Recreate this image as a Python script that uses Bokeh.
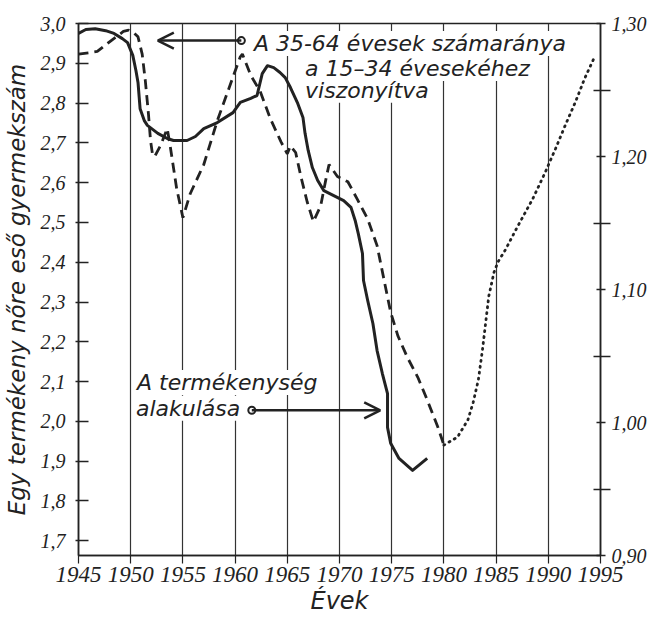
from bokeh.plotting import figure
from bokeh.models import Range1d, LinearAxis, FixedTicker, Label, Arrow, OpenHead
from bokeh.embed import file_html
from bokeh.resources import INLINE

# --- data ---
fert_years = [1945.0, 1945.7, 1946.6, 1947.6, 1948.4, 1949.2, 1949.7, 1950.2, 1950.5, 1950.7,
              1950.9, 1951.3, 1951.6, 1952.6, 1953.5, 1954.1, 1955.4, 1956.2, 1957.0, 1958.3,
              1959.8, 1960.5, 1961.5, 1962.1, 1962.6, 1963.1, 1963.7, 1964.3, 1964.8, 1965.3,
              1966.0, 1966.5, 1966.7, 1967.0, 1967.4, 1967.9, 1968.5, 1969.4, 1970.4, 1971.1,
              1971.5, 1971.8, 1972.2, 1972.3, 1972.7, 1973.2, 1973.6, 1974.1, 1974.6, 1974.6,
              1974.6, 1974.9, 1975.7, 1977.0, 1978.4]
fertility = [2.975, 2.985, 2.987, 2.982, 2.975, 2.962, 2.952, 2.920, 2.882, 2.852,
             2.786, 2.756, 2.744, 2.724, 2.711, 2.706, 2.706, 2.716, 2.736, 2.751,
             2.776, 2.802, 2.812, 2.819, 2.874, 2.894, 2.889, 2.877, 2.864, 2.839,
             2.799, 2.764, 2.724, 2.681, 2.638, 2.606, 2.580, 2.568, 2.555, 2.538,
             2.505, 2.472, 2.422, 2.354, 2.304, 2.246, 2.178, 2.121, 2.070, 2.028,
             1.985, 1.945, 1.907, 1.877, 1.907]

ratio_years = [1945.0, 1946.0, 1946.8, 1948.1, 1949.3, 1949.8, 1950.3, 1950.7, 1951.1, 1951.4,
               1951.7, 1951.9, 1952.1, 1952.3, 1952.9, 1953.5, 1953.8, 1954.4, 1955.0, 1955.7,
               1957.0, 1958.3, 1959.9, 1960.5, 1960.7, 1961.5, 1962.4, 1963.4, 1964.4, 1965.0,
               1965.3, 1965.8, 1966.3, 1966.9, 1967.5, 1968.2, 1968.7, 1969.0, 1969.8, 1970.8,
               1971.7, 1972.7, 1973.6, 1974.4, 1974.9, 1975.6, 1976.5, 1977.5, 1978.4, 1979.4,
               1980.0]
ratio = [1.277, 1.278, 1.279, 1.287, 1.294, 1.295, 1.293, 1.290, 1.277, 1.257,
         1.232, 1.212, 1.201, 1.200, 1.209, 1.221, 1.207, 1.176, 1.154, 1.172,
         1.194, 1.227, 1.262, 1.275, 1.277, 1.261, 1.249, 1.228, 1.211, 1.202,
         1.208, 1.203, 1.185, 1.166, 1.151, 1.163, 1.183, 1.194, 1.185, 1.181,
         1.168, 1.153, 1.133, 1.102, 1.083, 1.065, 1.049, 1.034, 1.017, 0.997,
         0.983]

proj_years = [1980.0, 1981.3, 1982.3, 1982.8, 1983.3, 1983.7, 1984.0, 1984.3, 1984.8, 1985.2,
              1985.9, 1987.1, 1988.5, 1989.7, 1990.7, 1991.6, 1992.6, 1993.5, 1994.5]
ratio_proj = [0.983, 0.989, 1.002, 1.015, 1.032, 1.055, 1.075, 1.095, 1.113, 1.121,
              1.130, 1.148, 1.168, 1.188, 1.206, 1.223, 1.241, 1.259, 1.276]

x_ticks = [1945, 1950, 1955, 1960, 1965, 1970, 1975, 1980, 1985, 1990, 1995]
grid_years = [1950, 1955, 1960, 1965, 1970, 1975, 1980, 1985, 1990]
left_ticks = [1.7, 1.8, 1.9, 2.0, 2.1, 2.2, 2.3, 2.4, 2.5, 2.6, 2.7, 2.8, 2.9, 3.0]
left_labels = ["1,7", "1,8", "1,9", "2,0", "2,1", "2,2", "2,3", "2,4", "2,5", "2,6",
               "2,7", "2,8", "2,9", "3,0"]
right_ticks = [0.9, 1.0, 1.1, 1.2, 1.3]
right_minor = [0.95, 1.05, 1.15, 1.25]
right_labels = ["0,90", "1,00", "1,10", "1,20", "1,30"]

y_title = "Egy termékeny nőre eső gyermekszám"
x_title = "Évek"
note_ratio = ["A 35-64 évesek számaránya", "a 15–34 évesekéhez", "viszonyítva"]
note_fert = ["A termékenység", "alakulása"]

INK = "#222222"
TICK_FONT = "Liberation Sans Narrow"
TEXT_FONT = "DejaVu Sans"

p = figure(width=650, height=623, x_range=Range1d(1945, 1995), y_range=Range1d(1.663, 3.0),
           output_backend="svg", toolbar_location=None,
           min_border_left=78, min_border_right=50, min_border_top=23, min_border_bottom=68)
p.extra_y_ranges = {"ratio": Range1d(0.9, 1.3)}
p.background_fill_color = "white"
p.border_fill_color = "white"
p.outline_line_color = INK
p.outline_line_width = 1.5

# grid
p.ygrid.visible = False
p.xgrid.ticker = FixedTicker(ticks=grid_years)
p.xgrid.grid_line_color = "#333333"
p.xgrid.grid_line_width = 1.2

# bottom axis
xa = p.below[0]
xa.ticker = FixedTicker(ticks=x_ticks)
xa.major_tick_in = 0
xa.major_tick_out = 8
xa.minor_tick_line_color = None
xa.axis_line_color = INK
xa.axis_line_width = 1.5
xa.major_tick_line_color = INK
xa.major_tick_line_width = 1.2
xa.major_label_text_font = TICK_FONT
xa.major_label_text_font_style = "italic"
xa.major_label_text_font_size = "23px"
xa.major_label_text_color = INK
xa.major_label_standoff = 3
xa.axis_label = x_title
xa.axis_label_text_font = TEXT_FONT
xa.axis_label_text_font_style = "italic"
xa.axis_label_text_font_size = "24px"
xa.axis_label_text_color = INK
xa.axis_label_standoff = 2

# left axis
ya = p.left[0]
ya.ticker = FixedTicker(ticks=left_ticks)
ya.major_label_overrides = dict(zip(left_ticks, left_labels))
ya.major_tick_in = 10
ya.major_tick_out = 3
ya.minor_tick_line_color = None
ya.axis_line_color = INK
ya.axis_line_width = 1.5
ya.major_tick_line_color = INK
ya.major_tick_line_width = 1.5
ya.major_label_text_font = TICK_FONT
ya.major_label_text_font_style = "italic"
ya.major_label_text_font_size = "20px"
ya.major_label_text_color = INK
ya.major_label_standoff = 10
ya.axis_label = y_title
ya.axis_label_text_font = TEXT_FONT
ya.axis_label_text_font_style = "italic"
ya.axis_label_text_font_size = "23px"
ya.axis_label_text_color = INK
ya.axis_label_standoff = 8

# right axis
ra = LinearAxis(y_range_name="ratio",
                ticker=FixedTicker(ticks=right_ticks, minor_ticks=right_minor),
                major_label_overrides=dict(zip(right_ticks, right_labels)))
ra.major_tick_in = 4
ra.major_tick_out = 5
ra.minor_tick_in = 7
ra.minor_tick_out = 10
ra.axis_line_color = INK
ra.axis_line_width = 1.5
ra.major_tick_line_color = INK
ra.major_tick_line_width = 1.5
ra.minor_tick_line_color = INK
ra.minor_tick_line_width = 1.5
ra.major_label_text_font = TICK_FONT
ra.major_label_text_font_style = "italic"
ra.major_label_text_font_size = "20px"
ra.major_label_text_color = INK
ra.major_label_standoff = 1
p.add_layout(ra, "right")

# curves
p.line(fert_years, fertility, line_color=INK, line_width=3, line_join="round")
p.line(ratio_years, ratio, y_range_name="ratio", line_color=INK, line_width=2.8,
       line_dash="10 6")
p.line(proj_years, ratio_proj, y_range_name="ratio", line_color=INK, line_width=2.8,
       line_dash="1 5", line_cap="round")

# annotations
p.add_layout(Arrow(end=OpenHead(size=16, line_width=2.5, line_color=INK),
                   x_start=1960.6, y_start=2.957, x_end=1952.6, y_end=2.957,
                   line_width=2.5, line_color=INK))
p.add_layout(Arrow(end=OpenHead(size=16, line_width=2.5, line_color=INK),
                   x_start=1961.6, y_start=2.028, x_end=1973.9, y_end=2.028,
                   line_width=2.5, line_color=INK))
p.scatter([1960.6, 1961.6], [2.957, 2.028], size=7, fill_color="white",
          line_color=INK, line_width=2)

label_kw = dict(text_font=TEXT_FONT, text_font_style="italic", text_font_size="22px",
                text_color=INK, text_baseline="middle", background_fill_color="white")
p.add_layout(Label(x=1961.8, y=2.950, text=note_ratio[0], **label_kw))
p.add_layout(Label(x=1966.7, y=2.887, text=note_ratio[1], **label_kw))
p.add_layout(Label(x=1966.7, y=2.832, text=note_ratio[2], **label_kw))
p.add_layout(Label(x=1950.6, y=2.098, text=note_fert[0], **label_kw))
p.add_layout(Label(x=1950.5, y=2.033, text=note_fert[1], **label_kw))

open("out.html", "w").write(file_html(p, INLINE))
